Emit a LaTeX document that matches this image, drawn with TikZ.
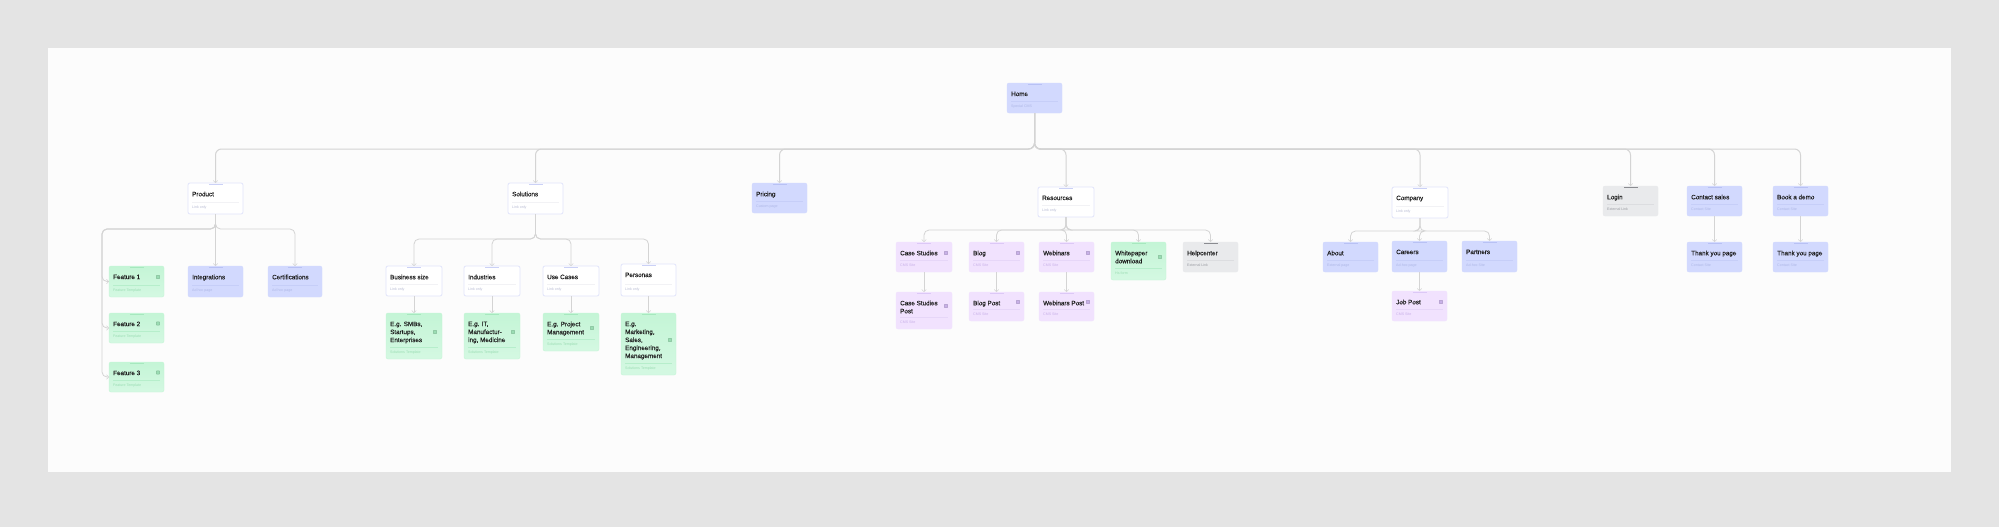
\documentclass[tikz,border=0pt]{standalone}
\usepackage{fontspec}
\setmainfont{Liberation Sans}
\newfontfamily\cardfont[RawFeature={embolden=0.18}]{Liberation Sans}
\usetikzlibrary{arrows.meta}
\definecolor{bgc}{HTML}{E4E4E4}
\definecolor{panelc}{HTML}{FCFCFC}
\definecolor{linec}{HTML}{D4D4D4}
\definecolor{blueF}{HTML}{D2D9FE}\definecolor{blueD}{HTML}{C6CEF8}\definecolor{blueS}{HTML}{AEB7E6}\definecolor{blueB}{HTML}{B8C1F4}
\definecolor{greenF}{HTML}{C4F5D6}\definecolor{greenE}{HTML}{D4F8E2}\definecolor{greenD}{HTML}{B6EECB}\definecolor{greenS}{HTML}{9ADDB3}\definecolor{greenB}{HTML}{A6E8BE}
\definecolor{purpF}{HTML}{F1E2FE}\definecolor{purpD}{HTML}{E6D6F8}\definecolor{purpS}{HTML}{C8B0E8}\definecolor{purpB}{HTML}{DCC8F6}
\definecolor{grayF}{HTML}{E9EAEC}\definecolor{grayD}{HTML}{DCDDE0}\definecolor{grayS}{HTML}{9A9CA2}\definecolor{grayB}{HTML}{8A8B90}
\definecolor{whiteB}{HTML}{E2E5FB}\definecolor{whiteD}{HTML}{F2F2F5}\definecolor{whiteS}{HTML}{B8BCD4}\definecolor{whiteBB}{HTML}{CBD1F6}
\tikzset{
  x=1pt,y=-1pt,
  cardbase/.style={anchor=north west,inner sep=0pt,outer sep=0pt,rounded corners=2pt,line width=.4pt},
  bluecard/.style={cardbase,fill=blueF,draw=blueF},
  greencard/.style={cardbase,draw=greenF,shading angle=150,top color=greenF,bottom color=greenE},
  purpcard/.style={cardbase,fill=purpF,draw=purpF},
  graycard/.style={cardbase,fill=grayF,draw=grayF},
  whitecard/.style={cardbase,fill=white,draw=whiteB,line width=.8pt},
  titletext/.style={anchor=north west,inner sep=0pt,align=left,text=black!88,font=\cardfont\fontsize{6.3}{8}\selectfont},
  subtext/.style={anchor=west,inner sep=0pt,font=\fontsize{3.6}{4}\selectfont},
  conn/.style={draw=linec,line width=.8pt,rounded corners=5pt,-{Straight Barb[length=2.2pt,width=4.5pt,line width=.5pt]}},
  trunk/.style={draw=linec,line width=1pt,rounded corners=6pt,-{Straight Barb[length=2.2pt,width=4.5pt,line width=.5pt]}},
  bus/.style={to path={-- (\tikztostart |- #1) -- (\tikztotarget |- #1) -- (\tikztotarget)}},
  side/.style={to path={-- (\tikztostart |- #1) -- (#1 -| trunkx) -- (\tikztotarget -| trunkx) -- (\tikztotarget)}}
}
\colorlet{whiteBar}{whiteBB}
\newcommand{\card}[8]{%
  \node[#6card,minimum width={(#4-#2)*1pt},minimum height={(#5-#3)*1pt}] (#1) at (#2,#3) {};
  \draw[#6D,line width=.35pt] (#2+4,#5-11.5) -- (#4-4,#5-11.5);
  \fill[#6Bar] ({(#2+#4)/2-7},#3+.5) rectangle ({(#2+#4)/2+7},#3+1.3);
  \node[titletext] (#1-t) at (#2+4,#3+8.5) {\vphantom{Ag}#7};
  \node[subtext,text=#6S] (#1-s) at (#2+4,#5-6.5) {#8};
}
\colorlet{blueBar}{blueB}\colorlet{greenBar}{greenB}\colorlet{purpBar}{purpB}\colorlet{grayBar}{grayB}
\newcommand{\icon}[4]{%
  \node[draw=#2!85!black,fill=#2,inner sep=0pt,minimum size=3.2pt,rounded corners=.4pt,line width=.4pt] (#1) at (#3,#4) {};
}
\begin{document}
\begin{tikzpicture}
\useasboundingbox (0,0) rectangle (1999,527);
\fill[bgc] (0,0) rectangle (1999,527);
\fill[panelc] (48,48) rectangle (1951,471.5);
\coordinate (busmain) at (0,149);
\coordinate (busprod) at (0,229);
\coordinate (bussol) at (0,239);
\coordinate (busres) at (0,230);
\coordinate (buscomp) at (0,231);
\coordinate (trunkx) at (102,0);

\card{home}{1007}{83}{1062}{113}{blue}{Home}{Special CMS}
\card{product}{188}{183}{243}{214}{white}{Product}{Link only}
\card{f1}{109}{266}{164}{297}{green}{Feature 1}{Feature Template}
\card{f2}{109}{313}{164}{343}{green}{Feature 2}{Feature Template}
\card{f3}{109}{362}{164}{392}{green}{Feature 3}{Feature Template}
\icon{f1i}{greenS}{158}{277}\icon{f2i}{greenS}{158}{323.5}\icon{f3i}{greenS}{158}{372.5}
\card{integ}{188}{266}{243}{297}{blue}{Integrations}{Ad hoc page}
\card{cert}{268}{266}{322}{297}{blue}{Certifications}{Ad hoc page}
\card{solutions}{508}{183}{563}{214}{white}{Solutions}{Link only}
\card{biz}{386}{266}{442}{296}{white}{Business size}{Link only}
\card{ind}{464}{266}{520}{296}{white}{Industries}{Link only}
\card{use}{543}{266}{599}{296}{white}{Use Cases}{Link only}
\card{pers}{621}{264}{676}{296}{white}{Personas}{Link only}
\card{biz2}{386}{313}{442}{359}{green}{E.g. SMBs,\\Startups,\\Enterprises}{Solutions Template}
\card{ind2}{464}{313}{520}{359}{green}{E.g. IT,\\Manufactur-\\ing, Medicine}{Solutions Template}
\card{use2}{543}{313}{599}{351}{green}{E.g. Project\\Management}{Solutions Template}
\card{pers2}{621}{313}{676}{375}{green}{E.g.\\Marketing,\\Sales,\\Engineering,\\Management}{Solutions Template}
\icon{b2i}{greenS}{435}{332}\icon{i2i}{greenS}{513}{332}\icon{u2i}{greenS}{592}{328}\icon{p2i}{greenS}{670}{340}
\card{pricing}{752}{183}{807}{213}{blue}{Pricing}{Custom page}
\card{resources}{1038}{187}{1094}{217}{white}{Resources}{Link only}
\card{case}{896}{242}{952}{272}{purp}{Case Studies}{CMS Site}
\card{blog}{969}{242}{1024}{272}{purp}{Blog}{CMS Site}
\card{web}{1039}{242}{1094}{272}{purp}{Webinars}{CMS Site}
\card{white}{1111}{242}{1166}{280}{green}{Whitepaper\\download}{Hs form}
\card{help}{1183}{242}{1238}{272}{gray}{Helpcenter}{External Link}
\card{case2}{896}{292}{952}{329}{purp}{Case Studies\\Post}{CMS Site}
\card{blog2}{969}{292}{1024}{321}{purp}{Blog Post}{CMS Site}
\card{web2}{1039}{292}{1094}{321}{purp}{Webinars Post}{CMS Site}
\icon{ci}{purpS}{946}{253}\icon{bi}{purpS}{1018}{253}\icon{wi}{purpS}{1088}{253}\icon{wpi}{greenS}{1160}{257}
\icon{c2i}{purpS}{946}{306}\icon{b2i2}{purpS}{1018}{302}\icon{w2i}{purpS}{1088}{302}
\card{company}{1392}{187}{1448}{218}{white}{Company}{Link only}
\card{about}{1323}{242}{1378}{272}{blue}{About}{External page}
\card{careers}{1392}{241}{1447}{272}{blue}{Careers}{Ad-hoc page}
\card{partners}{1462}{241}{1517}{272}{blue}{Partners}{Ad-hoc Site}
\card{job}{1392}{291}{1447}{321}{purp}{Job Post}{CMS Site}
\icon{ji}{purpS}{1441}{302}
\card{login}{1603}{186}{1658}{216}{gray}{Login}{External Link}
\card{contact}{1687}{186}{1742}{216}{blue}{Contact sales}{Contact Site}
\card{book}{1773}{186}{1828}{216}{blue}{Book a demo}{Contact Site}
\card{thank1}{1687}{242}{1742}{272}{blue}{Thank you page}{Contact Site}
\card{thank2}{1773}{242}{1828}{272}{blue}{Thank you page}{Contact Site}

\foreach \t in {product,solutions,pricing,resources,company,login,contact,book}
  \draw[trunk] (home.south) to[bus=busmain] (\t.north);
\foreach \t in {integ,cert}
  \draw[conn] (product.south) to[bus=busprod] (\t.north);
\foreach \t in {f1,f2,f3}
  \draw[conn] (product.south) to[side=busprod] (\t.west);
\foreach \t in {biz,ind,use,pers}
  \draw[conn] (solutions.south) to[bus=bussol] (\t.north);
\draw[conn] (biz.south) -- (biz2.north);
\draw[conn] (ind.south) -- (ind2.north);
\draw[conn] (use.south) -- (use2.north);
\draw[conn] (pers.south) -- (pers2.north);
\foreach \t in {case,blog,web,white,help}
  \draw[conn] (resources.south) to[bus=busres] (\t.north);
\draw[conn] (case.south) -- (case2.north);
\draw[conn] (blog.south) -- (blog2.north);
\draw[conn] (web.south) -- (web2.north);
\foreach \t in {about,careers,partners}
  \draw[conn] (company.south) to[bus=buscomp] (\t.north);
\draw[conn] (careers.south) -- (job.north);
\draw[conn] (contact.south) -- (thank1.north);
\draw[conn] (book.south) -- (thank2.north);
\end{tikzpicture}
\end{document}
